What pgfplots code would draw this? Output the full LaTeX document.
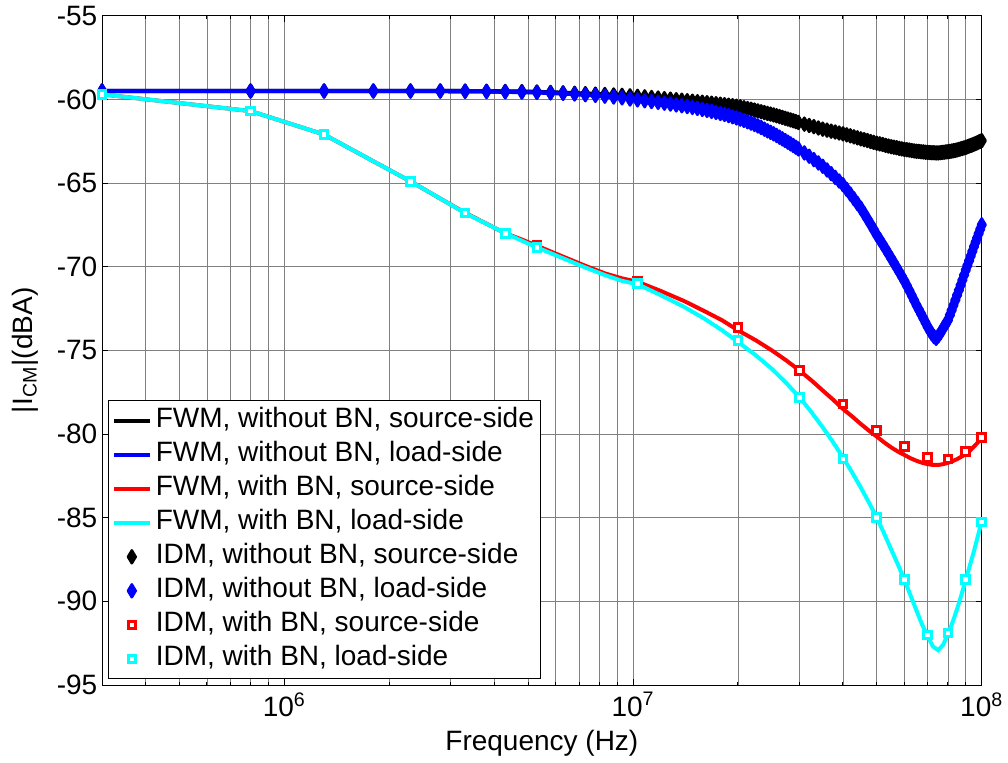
\documentclass[border=0pt]{standalone}
\usepackage{pgfplots}
\pgfplotsset{compat=1.18}
\usepackage{pgfplotstable}
\usepackage{fontspec}
\setmainfont{Liberation Sans}
\usetikzlibrary{calc}

% IDM without BN: f, source-side (b), load-side (l)
\pgfplotstableread{
f b l
3e5 -59.50 -59.50
8e5 -59.50 -59.50
1.3e6 -59.50 -59.50
1.8e6 -59.50 -59.50
2.3e6 -59.50 -59.50
2.8e6 -59.50 -59.50
3.3e6 -59.51 -59.51
3.8e6 -59.52 -59.52
4.3e6 -59.53 -59.54
4.8e6 -59.54 -59.56
5.3e6 -59.56 -59.58
5.8e6 -59.59 -59.61
6.3e6 -59.61 -59.64
6.8e6 -59.64 -59.68
7.3e6 -59.66 -59.72
7.8e6 -59.69 -59.76
8.3e6 -59.71 -59.81
8.8e6 -59.74 -59.86
9.3e6 -59.76 -59.91
9.8e6 -59.79 -59.98
1.03e7 -59.82 -60.03
1.08e7 -59.85 -60.08
1.13e7 -59.89 -60.13
1.18e7 -59.92 -60.18
1.23e7 -59.96 -60.23
1.28e7 -59.99 -60.28
1.33e7 -60.02 -60.33
1.38e7 -60.05 -60.38
1.43e7 -60.08 -60.43
1.48e7 -60.11 -60.48
1.53e7 -60.14 -60.54
1.58e7 -60.17 -60.60
1.63e7 -60.20 -60.66
1.68e7 -60.23 -60.72
1.73e7 -60.26 -60.78
1.78e7 -60.29 -60.84
1.83e7 -60.32 -60.90
1.88e7 -60.35 -60.97
1.93e7 -60.38 -61.04
1.98e7 -60.41 -61.11
2.03e7 -60.45 -61.18
2.08e7 -60.50 -61.26
2.13e7 -60.55 -61.34
2.18e7 -60.59 -61.42
2.23e7 -60.64 -61.50
2.28e7 -60.69 -61.59
2.33e7 -60.74 -61.68
2.38e7 -60.79 -61.78
2.43e7 -60.84 -61.88
2.48e7 -60.88 -61.97
2.53e7 -60.93 -62.06
2.58e7 -60.98 -62.16
2.63e7 -61.03 -62.26
2.68e7 -61.08 -62.36
2.73e7 -61.13 -62.46
2.78e7 -61.18 -62.56
2.83e7 -61.23 -62.66
2.88e7 -61.28 -62.76
2.93e7 -61.33 -62.86
2.98e7 -61.38 -62.96
3.1e7 -61.48 -63.20
3.2e7 -61.56 -63.40
3.3e7 -61.63 -63.60
3.4e7 -61.71 -63.80
3.5e7 -61.78 -64.00
3.6e7 -61.84 -64.22
3.7e7 -61.90 -64.44
3.8e7 -61.95 -64.66
3.9e7 -62.01 -64.88
4.0e7 -62.06 -65.10
4.1e7 -62.12 -65.38
4.2e7 -62.18 -65.66
4.3e7 -62.24 -65.94
4.4e7 -62.30 -66.22
4.5e7 -62.36 -66.50
4.6e7 -62.41 -66.82
4.7e7 -62.46 -67.14
4.8e7 -62.52 -67.46
4.9e7 -62.57 -67.78
5.0e7 -62.62 -68.10
5.1e7 -62.66 -68.38
5.2e7 -62.70 -68.66
5.3e7 -62.75 -68.94
5.4e7 -62.79 -69.22
5.5e7 -62.83 -69.50
5.6e7 -62.86 -69.77
5.7e7 -62.89 -70.04
5.8e7 -62.93 -70.31
5.9e7 -62.96 -70.58
6.0e7 -62.99 -70.85
6.1e7 -63.01 -71.14
6.2e7 -63.03 -71.43
6.3e7 -63.06 -71.72
6.4e7 -63.08 -72.01
6.5e7 -63.10 -72.30
6.6e7 -63.11 -72.56
6.7e7 -63.13 -72.82
6.8e7 -63.14 -73.08
6.9e7 -63.16 -73.34
7.0e7 -63.17 -73.60
7.1e7 -63.18 -73.82
7.2e7 -63.19 -74.02
7.3e7 -63.19 -74.18
7.4e7 -63.20 -74.28
7.5e7 -63.20 -74.15
7.6e7 -63.19 -73.98
7.7e7 -63.17 -73.78
7.8e7 -63.16 -73.58
7.9e7 -63.14 -73.39
8.0e7 -63.13 -73.20
8.1e7 -63.11 -72.90
8.2e7 -63.09 -72.60
8.3e7 -63.07 -72.30
8.4e7 -63.05 -72.00
8.5e7 -63.02 -71.70
8.6e7 -62.99 -71.40
8.7e7 -62.96 -71.10
8.8e7 -62.93 -70.80
8.9e7 -62.90 -70.50
9.0e7 -62.87 -70.20
9.1e7 -62.83 -69.92
9.2e7 -62.79 -69.64
9.3e7 -62.76 -69.36
9.4e7 -62.72 -69.08
9.5e7 -62.68 -68.80
9.6e7 -62.64 -68.54
9.7e7 -62.60 -68.28
9.8e7 -62.55 -68.02
9.9e7 -62.51 -67.76
1.0e8 -62.47 -67.50
}\idmwo

% FWM with BN: f, source-side (r), load-side (c)
\pgfplotstableread{
f r c
3e5 -59.70 -59.70
8e5 -60.70 -60.70
1.3e6 -62.10 -62.10
1.8e6 -63.70 -63.70
2.3e6 -64.90 -64.90
2.8e6 -65.93 -65.93
3.3e6 -66.78 -66.80
3.8e6 -67.43 -67.44
4.3e6 -68.00 -68.00
4.8e6 -68.38 -68.45
5.3e6 -68.75 -68.85
6.3e6 -69.40 -69.50
7.3e6 -69.95 -70.05
8.3e6 -70.40 -70.50
9.3e6 -70.70 -70.85
1.03e7 -70.90 -71.05
1.2e7 -71.45 -71.70
1.4e7 -72.05 -72.40
1.6e7 -72.65 -73.10
1.8e7 -73.20 -73.80
2e7 -73.80 -74.50
2.25e7 -74.40 -75.30
2.5e7 -75.00 -76.10
2.75e7 -75.60 -76.95
3e7 -76.20 -77.80
3.25e7 -76.80 -78.70
3.5e7 -77.40 -79.60
3.75e7 -77.95 -80.50
4e7 -78.50 -81.40
4.25e7 -78.95 -82.30
4.5e7 -79.40 -83.20
4.75e7 -79.80 -84.10
5e7 -80.15 -85.00
5.25e7 -80.50 -85.95
5.5e7 -80.80 -86.90
5.75e7 -81.05 -87.80
6e7 -81.25 -88.70
6.25e7 -81.45 -89.65
6.5e7 -81.60 -90.55
6.75e7 -81.72 -91.40
7e7 -81.80 -92.10
7.25e7 -81.85 -92.70
7.5e7 -81.85 -92.92
7.75e7 -81.80 -92.60
8e7 -81.72 -91.95
8.25e7 -81.62 -91.25
8.5e7 -81.50 -90.45
8.75e7 -81.35 -89.60
9e7 -81.20 -88.70
9.25e7 -81.00 -87.85
9.5e7 -80.75 -87.00
9.75e7 -80.50 -86.10
1e8 -80.20 -85.20
}\fwmw

% IDM with BN: f, source-side (r), load-side (c)
\pgfplotstableread{
f r c
3e5 -59.70 -59.70
8e5 -60.70 -60.70
1.3e6 -62.10 -62.10
2.3e6 -64.90 -64.90
3.3e6 -66.80 -66.80
4.3e6 -68.00 -68.00
5.3e6 -68.70 -68.85
1.03e7 -70.85 -71.00
2e7 -73.65 -74.40
3e7 -76.20 -77.80
4e7 -78.20 -81.50
5e7 -79.80 -85.00
6e7 -80.75 -88.70
7e7 -81.40 -92.00
8e7 -81.50 -91.90
9e7 -81.05 -88.70
1e8 -80.20 -85.25
}\idmw

\definecolor{mblue}{rgb}{0,0,1}
\definecolor{mred}{rgb}{1,0,0}
\definecolor{mcyan}{rgb}{0,1,1}

\begin{document}
\begin{tikzpicture}
\begin{axis}[
  name=ax,
  scale only axis,
  width=439.85pt, height=334.65pt,
  xmode=log,
  xmin=3e5, xmax=1e8,
  ymin=-95, ymax=-55,
  xtick={1e6,1e7,1e8},
  xticklabels={10\textsuperscript{6},10\textsuperscript{7},10\textsuperscript{8}},
  minor xtick={4e5,5e5,6e5,7e5,8e5,9e5,2e6,3e6,4e6,5e6,6e6,7e6,8e6,9e6,2e7,3e7,4e7,5e7,6e7,7e7,8e7,9e7},
  ytick={-95,-90,-85,-80,-75,-70,-65,-60,-55},
  yticklabels={-95,-90,-85,-80,-75,-70,-65,-60,-55},
  xmajorgrids, xminorgrids, ymajorgrids,
  grid style={black!50, line width=0.4pt},
  minor grid style={black!50, line width=0.4pt},
  tick align=inside,
  major tick length=3pt, minor tick length=1.6pt,
  every tick/.style={black, line width=0.5pt},
  axis line style={black, line width=0.5pt},
  tick label style={font=\fontsize{14}{16}\selectfont},
  yticklabel style={inner sep=1pt, xshift=-1.2pt},
  xticklabel style={inner sep=1pt, yshift=-2.5pt},
  xlabel={Frequency (Hz)},
  ylabel={|I\textsubscript{CM}|(dBA)},
  label style={font=\fontsize{14}{16}\selectfont},
  xlabel style={at={(axis description cs:0.5,0)}, anchor=north, inner sep=0pt, yshift=-22.5pt},
  ylabel style={at={(axis description cs:0,0.5)}, anchor=center, inner sep=0pt, yshift=38.5pt},
  clip=false,
  legend image code/.code={\draw[mark repeat=2,mark phase=2,#1] plot coordinates {(0pt,0pt) (8.9pt,0pt) (17.8pt,0pt)};},
  legend cell align=left,
  legend style={at={(0,0)}, anchor=south west, xshift=3.15pt, yshift=2.85pt,
    draw=black, line width=0.5pt, fill=white, inner sep=1.5pt, row sep=0pt,
    font=\fontsize{14}{16}\selectfont,
    nodes={inner sep=2pt, text height=10pt, text depth=3pt}},
]
\addplot[black, line width=2.2pt] table[x=f, y=b] {\idmwo};
\addlegendentry{FWM, without BN, source-side}
\addplot[mblue, line width=2.2pt] table[x=f, y=l] {\idmwo};
\addlegendentry{FWM, without BN, load-side}
\addplot[mred, line width=2pt] table[x=f, y=r] {\fwmw};
\addlegendentry{FWM, with BN, source-side}
\addplot[mcyan, line width=2pt] table[x=f, y=c] {\fwmw};
\addlegendentry{FWM, with BN, load-side}
\addplot[black, only marks, line width=1.3pt, mark=diamond*, mark size=3.2pt, mark options={solid, xscale=0.8, draw=black, fill=black, line width=1.3pt, line join=round}] table[x=f, y=b] {\idmwo};
\addlegendentry{IDM, without BN, source-side}
\addplot[mblue, only marks, line width=1.3pt, mark=diamond*, mark size=3.2pt, mark options={solid, xscale=0.8, draw=mblue, fill=mblue, line width=1.3pt, line join=round}] table[x=f, y=l] {\idmwo};
\addlegendentry{IDM, without BN, load-side}
\addplot[mred, only marks, line width=1.5pt, mark=square*, mark size=1.9pt, mark options={solid, draw=mred, fill=white, line width=1.5pt}] table[x=f, y=r] {\idmw};
\addlegendentry{IDM, with BN, source-side}
\addplot[mcyan, only marks, line width=1.5pt, mark=square*, mark size=1.9pt, mark options={solid, draw=mcyan, fill=white, line width=1.5pt}] table[x=f, y=c] {\idmw};
\addlegendentry{IDM, with BN, load-side}
\end{axis}
\pgfresetboundingbox
\path ($(ax.south west)+(-51pt,-38.5pt)$) rectangle ($(ax.north east)+(13.15pt,7.85pt)$);
\end{tikzpicture}
\end{document}
